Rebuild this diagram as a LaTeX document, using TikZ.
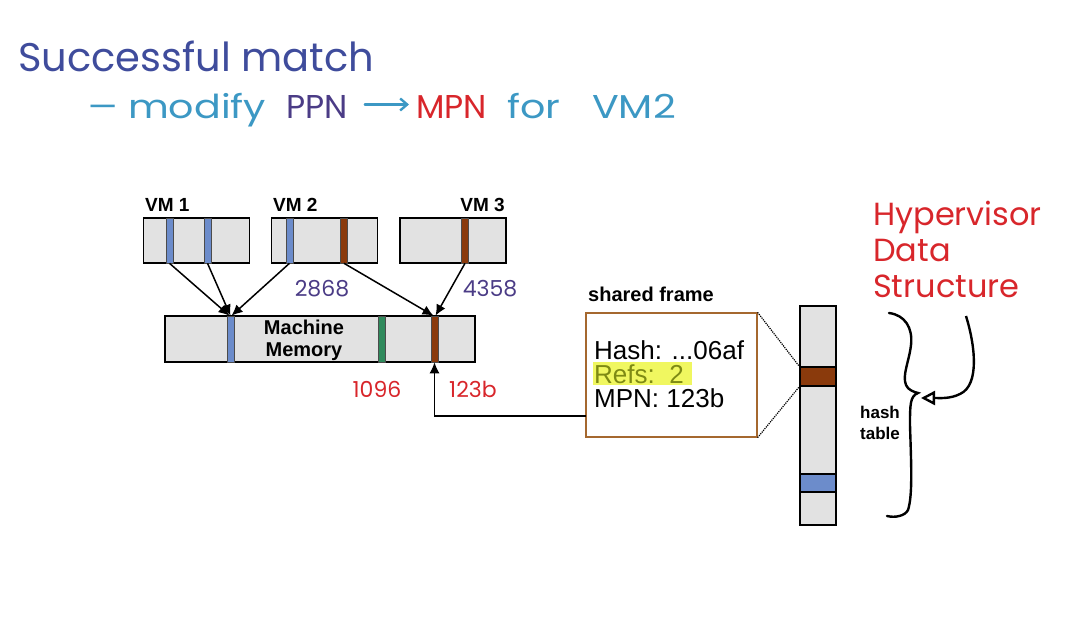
\documentclass[tikz,border=0pt]{standalone}
\usepackage{fontspec}
\setmainfont{Liberation Sans}
\newfontfamily\handfont{Poppins}
\newfontfamily\handwide[FakeStretch=1.2]{Poppins}
\usetikzlibrary{arrows.meta, positioning, calc}
\definecolor{memgray}{HTML}{E2E2E2}
\definecolor{pageblue}{HTML}{6C8CCB}
\definecolor{pagebrown}{HTML}{8A3A0C}
\definecolor{pagegreen}{HTML}{2F8A5C}
\definecolor{inkblue}{HTML}{3F4C9C}
\definecolor{inkcyan}{HTML}{3C98C4}
\definecolor{inkpurple}{HTML}{4B3C86}
\definecolor{inkred}{HTML}{D8262B}
\definecolor{framebrown}{HTML}{A5682F}
\definecolor{hiyellow}{HTML}{F0F760}
\definecolor{hitext}{HTML}{7E8A14}

\begin{document}
\begin{tikzpicture}[x=1pt, y=-1pt,
  vmbox/.style={draw, fill=memgray, line width=1.7pt, minimum width=106pt, minimum height=45pt, inner sep=0pt},
  stripe/.style={draw=black!70, line width=0.6pt, minimum width=7pt, minimum height=45pt, inner sep=0pt},
  cell/.style={draw, line width=1.7pt, minimum width=36pt, inner sep=0pt},
  vmlbl/.style={font=\bfseries\fontsize{19}{21}\selectfont, inner sep=0pt},
  boxlbl/.style={font=\bfseries\fontsize{20}{22}\selectfont, inner sep=0pt, align=center},
  frametxt/.style={font=\fontsize{26}{28}\selectfont, inner sep=0pt, anchor=west},
  ink/.style={font=\handfont\fontsize{22}{24}\selectfont, inner sep=0pt},
  note/.style={font=\handfont\fontsize{33}{35}\selectfont, inner sep=0pt, anchor=base west},
  map/.style={-{Latex[length=11pt, width=10pt]}, line width=1.5pt},
]
\useasboundingbox (0,0) rectangle (1074,623);

% Notes
\node[ink, anchor=west, text=inkblue, font=\handfont\fontsize{40}{42}\selectfont] (title) at (18,56) {Successful match};
\node[note, text=inkcyan] (dash) at (88,119) {—};
\node[note, text=inkcyan, font=\handwide\fontsize{33}{35}\selectfont] (modify) at (128,119) {modify};
\node[note, text=inkpurple] (ppn) at (286,119) {PPN};
\node[note, text=inkred] (mpnword) at (416,119) {MPN};
\node[note, text=inkcyan, font=\handwide\fontsize{33}{35}\selectfont] (for) at (507,119) {for};
\node[note, text=inkcyan, font=\handwide\fontsize{33}{35}\selectfont] (vm2word) at (592,119) {VM2};
\draw[inkcyan, line width=2.4pt, line cap=round, -{Straight Barb[length=7pt, width=12pt]}, shorten <=17pt, shorten >=7pt] ([yshift=3pt]ppn.east) -- ([yshift=3pt]mpnword.west);

% VM 1
\node[vmlbl, anchor=west] (vm1lbl) at (145,205) {VM 1};
\node[vmbox] (vm1) at (196.5,240.5) {};
\node[stripe, fill=pageblue] (vm1a) at (169.5,240.5) {};
\node[stripe, fill=pageblue] (vm1b) at (207.5,240.5) {};
% VM 2
\node[vmlbl, anchor=west] (vm2lbl) at (273,205) {VM 2};
\node[vmbox] (vm2) at (324.5,240.5) {};
\node[stripe, fill=pageblue] (vm2a) at (289.5,240.5) {};
\node[stripe, fill=pagebrown] (vm2b) at (344,240.5) {};
% VM 3
\node[vmlbl, anchor=east] (vm3lbl) at (505,205) {VM 3};
\node[vmbox] (vm3) at (453,240.5) {};
\node[stripe, fill=pagebrown] (vm3a) at (465,240.5) {};

% Machine Memory
\node[vmbox, minimum width=310pt, minimum height=46pt] (mm) at (320,339) {};
\node[stripe, minimum height=46pt, fill=pageblue] (mm1) at (230.5,339) {};
\node[stripe, minimum height=46pt, fill=pagegreen] (mm2) at (381.5,339) {};
\node[stripe, minimum height=46pt, fill=pagebrown] (mm3) at (434.5,339) {};
\node[boxlbl] (mmlbl) at (304,340) {Machine\\Memory};

% PPN -> MPN
\draw[map] (vm1a.south) -- ([xshift=-1pt]mm1.north);
\draw[map] (vm1b.south) -- (mm1.north);
\draw[map] (vm2a.south) -- ([xshift=1pt]mm1.north);
\draw[map] (vm2b.south) -- ([xshift=-1pt]mm3.north);
\draw[map] (vm3a.south) -- ([xshift=1pt]mm3.north);

% handwritten numbers
\node[ink, text=inkpurple] (ppn2) at (322,289) {2868};
\node[ink, text=inkpurple] (ppn3) at (490,289) {4358};
\node[ink, text=inkred] (mpn1) at (377,389) {1096};
\node[ink, text=inkred] (mpn2) at (473,389) {123b};

% shared frame
\node[boxlbl] (sflbl) at (651,294) {shared frame};
\node[draw=framebrown, line width=1.2pt, minimum width=171pt, minimum height=124pt, inner sep=0pt] (sf) at (671.5,375) {};
\node[fill=hiyellow, minimum width=99pt, minimum height=23pt, inner sep=0pt] (hi) at (642.5,373.5) {};
\node[frametxt] (hash) at (594,350) {Hash: ...06af};
\node[frametxt, text=hitext] (refs) at (594,374) {Refs:\ \ 2};
\node[frametxt] (mpn) at (594,398) {MPN:\ 123b};
\coordinate (sfout) at (586,416);
\draw[map, line width=1.2pt] (sfout) -| (mm3.south);

% hash table
\node[cell, fill=memgray, minimum height=219pt] (ht) at (818,415.5) {};
\node[cell, fill=pagebrown, minimum height=19pt] (ht1) at (818,376.5) {};
\node[cell, fill=pageblue, minimum height=18pt] (ht2) at (818,483) {};
\draw[densely dotted, line width=1.2pt] (sf.north east) -- (ht1.north west);
\draw[densely dotted, line width=1.2pt] (sf.south east) -- (ht1.south west);
\node[boxlbl, align=left, font=\bfseries\fontsize{17}{21}\selectfont] (htlbl) at (880,423) {hash\\table};

% Hypervisor Data Structure
\node[ink, anchor=north west, align=left, text=inkred, font=\handfont\fontsize{32}{36}\selectfont] (hds) at (873,201) {Hypervisor\\Data\\Structure};
\draw[line width=2.4pt, line cap=round] (889,313) .. controls (905,315) and (913,328) .. (911,345)
  .. controls (909,362) and (902,375) .. (906,385) .. controls (908,390) and (914,392) .. (918,393)
  .. controls (910,396) and (910,405) .. (910,425) .. controls (911,460) and (913,495) .. (908,510)
  .. controls (905,516) and (895,518) .. (887,516);
\coordinate (hdsout) at (966,316);
\coordinate (bracetip) at (921,398);
\draw[line width=2.4pt, -{Triangle[open, length=14pt, width=14pt]}] (hdsout) .. controls (975,345) and (980,385) .. (960,394) .. controls (950,399) and (940,398) .. (bracetip);
\end{tikzpicture}
\end{document}
